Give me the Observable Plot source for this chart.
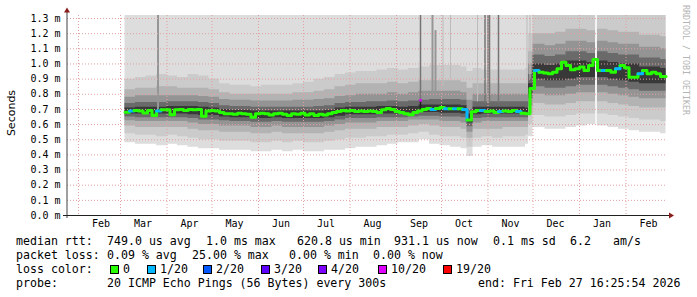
<!DOCTYPE html>
<html><head><meta charset="utf-8">
<script src="https://cdn.jsdelivr.net/npm/d3@7"></script>
<script src="https://cdn.jsdelivr.net/npm/@observablehq/plot@0.6"></script>
<style>
html,body{margin:0;padding:0;background:#fff;}
#wrap{position:relative;width:697px;height:297px;overflow:hidden;font-family:"DejaVu Sans Mono",monospace;}
#chart{position:absolute;left:0;top:0;}
.leg{position:absolute;font-size:11.6px;line-height:14px;white-space:pre;color:#000;}
.box{position:absolute;width:7px;height:7px;border:1px solid #000;}
.rot{position:absolute;white-space:pre;}
</style></head>
<body><div id="wrap"><div id="chart"></div></div>
<script>
// ---------------- data ----------------
const yTicks = [0.0,0.1,0.2,0.3,0.4,0.5,0.6,0.7,0.8,0.9,1.0,1.1,1.2,1.3];
const monthLabels = ["2025-02","2025-03","2025-04","2025-05","2025-06","2025-07","2025-08","2025-09","2025-10","2025-11","2025-12","2026-01","2026-02"];

// median rtt (ms), one value every 3 days from 2025-03-04
const medianStart = "2025-03-04";
const medianValues = [
0.682,0.690,0.693,0.690,0.676,0.693,0.660,0.690,0.698,0.698,
0.665,0.698,0.700,0.693,0.700,0.698,0.700,0.655,0.690,0.693,
0.690,0.680,0.672,0.671,0.668,0.675,0.671,0.668,0.648,0.671,
0.675,0.671,0.663,0.671,0.675,0.668,0.660,0.671,0.668,0.675,
0.663,0.671,0.660,0.668,0.663,0.671,0.680,0.686,0.693,0.690,
0.693,0.686,0.690,0.686,0.690,0.686,0.680,0.698,0.706,0.700,
0.686,0.680,0.671,0.665,0.680,0.690,0.700,0.706,0.700,0.706,
0.713,0.704,0.704,0.704,0.704,0.700,0.630,0.685,0.693,0.693,
0.686,0.690,0.680,0.686,0.690,0.686,0.693,0.686,0.675,0.671,
0.838,0.957,0.946,0.940,0.935,0.946,0.968,1.012,0.990,0.962,
0.968,0.980,0.957,0.990,1.030,0.957,0.957,0.957,0.946,0.968,
0.990,0.975,0.913,0.913,0.935,0.957,0.935,0.946,0.935,0.917,
0.917];
// lost pings (out of 20) for each median value
const medianLoss = [
0,1,0,0,0,0,0,1,0,0,
0,0,0,0,0,0,0,0,0,0,
0,0,0,0,0,0,0,0,0,0,
0,0,0,0,0,0,0,0,0,0,
0,0,0,0,0,0,0,0,0,0,
0,0,0,0,0,0,0,0,0,0,
0,0,0,0,0,0,0,0,1,0,
0,1,0,1,0,1,0,0,0,1,
0,0,0,1,0,0,0,1,0,0,
0,1,0,0,0,0,0,0,0,0,
0,0,0,0,0,0,1,0,0,1,
0,0,0,0,1,0,0,0,0,0,
0];
const endTime = "2026-02-27 16:25";

// smoke bands (ms): dates, then lower/upper edges from outermost (1) to innermost (6)
const bandDates = ["2025-03-04","2025-03-11","2025-03-18","2025-03-25","2025-04-01","2025-04-08","2025-04-15","2025-04-22","2025-04-29",
"2025-05-06","2025-05-13","2025-05-20","2025-05-27","2025-06-03","2025-06-10","2025-06-17","2025-06-24","2025-07-01","2025-07-08","2025-07-15","2025-07-22","2025-07-29","2025-08-05","2025-08-12","2025-08-19","2025-08-26","2025-09-02","2025-09-09","2025-09-16","2025-09-23","2025-09-30",
"2025-10-07","2025-10-14","2025-10-18","2025-10-22","2025-10-28","2025-11-04","2025-11-11","2025-11-18","2025-11-26","2025-11-28",
"2025-12-01","2025-12-09","2025-12-16","2025-12-23","2025-12-30","2026-01-06","2026-01-13","2026-01-20","2026-01-27","2026-02-03","2026-02-10","2026-02-17","2026-02-24","2026-02-27 16:25"];
const lo1 = [0.48,0.47,0.47,0.46,0.47,0.46,0.45,0.44,0.44,
0.43,0.43,0.43,0.42,0.42,0.43,0.42,0.43,0.42,0.42,0.43,0.43,0.44,0.45,0.45,0.46,0.47,0.48,0.48,0.50,0.47,0.46,
0.45,0.44,0.39,0.45,0.46,0.45,0.45,0.45,0.47,0.52,
0.58,0.57,0.57,0.58,0.59,0.60,0.59,0.58,0.57,0.56,0.55,0.55,0.54,0.54];
const hi1 = [1.32,1.32,1.32,1.32,1.32,1.32,1.32,1.32,1.32,
1.32,1.32,1.32,1.32,1.32,1.32,1.32,1.32,1.32,1.32,1.32,1.32,1.32,1.32,1.32,1.32,1.32,1.32,1.32,1.32,1.32,1.32,
1.32,1.32,1.32,1.32,1.32,1.32,1.32,1.32,1.32,1.32,
1.32,1.32,1.32,1.32,1.32,1.32,1.32,1.32,1.32,1.32,1.32,1.32,1.32,1.32];
const lo2 = [0.54,0.53,0.53,0.52,0.53,0.52,0.51,0.50,0.50,
0.49,0.49,0.49,0.48,0.48,0.49,0.48,0.49,0.48,0.48,0.49,0.50,0.51,0.51,0.52,0.52,0.53,0.53,0.54,0.55,0.53,0.52,
0.52,0.51,0.45,0.51,0.52,0.51,0.52,0.52,0.53,0.60,
0.66,0.65,0.65,0.66,0.67,0.67,0.67,0.66,0.65,0.64,0.63,0.63,0.62,0.62];
const hi2 = [0.90,0.91,0.92,0.93,0.92,0.91,0.93,0.92,0.90,
0.87,0.86,0.86,0.85,0.86,0.86,0.86,0.87,0.88,0.90,0.91,0.93,0.94,0.95,0.95,0.96,0.97,0.96,0.97,0.98,0.99,0.99,
0.99,0.98,0.95,0.97,0.96,0.96,0.96,0.96,0.97,1.20,
1.32,1.32,1.32,1.32,1.32,1.32,1.32,1.32,1.32,1.32,1.32,1.32,1.32,1.32];
const lo3 = [0.59,0.58,0.58,0.58,0.58,0.58,0.57,0.56,0.56,
0.55,0.55,0.55,0.54,0.54,0.55,0.54,0.54,0.54,0.54,0.55,0.56,0.57,0.57,0.57,0.58,0.58,0.58,0.59,0.60,0.59,0.58,
0.58,0.57,0.51,0.57,0.57,0.57,0.58,0.58,0.58,0.67,
0.74,0.73,0.73,0.74,0.75,0.75,0.75,0.74,0.73,0.72,0.71,0.71,0.71,0.71];
const hi3 = [0.83,0.84,0.84,0.85,0.85,0.84,0.84,0.84,0.83,
0.81,0.80,0.80,0.80,0.80,0.80,0.80,0.81,0.81,0.82,0.83,0.85,0.86,0.87,0.87,0.87,0.88,0.87,0.88,0.89,0.89,0.89,
0.89,0.88,0.84,0.87,0.87,0.87,0.87,0.87,0.87,1.08,
1.20,1.20,1.21,1.23,1.23,1.22,1.23,1.22,1.21,1.21,1.19,1.19,1.18,1.18];
const lo4 = [0.625,0.62,0.62,0.62,0.62,0.62,0.61,0.60,0.60,
0.59,0.59,0.59,0.58,0.58,0.59,0.58,0.58,0.58,0.58,0.59,0.60,0.61,0.61,0.61,0.62,0.62,0.62,0.63,0.63,0.63,0.62,
0.62,0.61,0.55,0.61,0.62,0.62,0.62,0.62,0.62,0.72,
0.80,0.79,0.79,0.80,0.81,0.81,0.81,0.80,0.79,0.78,0.77,0.77,0.77,0.77];
const hi4 = [0.78,0.79,0.79,0.79,0.79,0.79,0.79,0.785,0.78,
0.765,0.76,0.76,0.755,0.755,0.755,0.755,0.76,0.76,0.765,0.77,0.785,0.79,0.80,0.80,0.80,0.81,0.80,0.81,0.82,0.82,0.82,
0.82,0.81,0.76,0.80,0.80,0.80,0.80,0.80,0.80,1.00,
1.13,1.12,1.13,1.15,1.15,1.14,1.15,1.14,1.13,1.13,1.11,1.11,1.10,1.10];
const lo5 = [0.65,0.645,0.645,0.645,0.645,0.645,0.64,0.63,0.63,
0.625,0.62,0.62,0.615,0.615,0.62,0.615,0.615,0.615,0.615,0.62,0.63,0.64,0.64,0.64,0.645,0.645,0.645,0.65,0.655,0.655,0.65,
0.65,0.645,0.585,0.64,0.645,0.645,0.645,0.645,0.645,0.77,
0.85,0.84,0.84,0.85,0.86,0.86,0.86,0.85,0.84,0.83,0.82,0.82,0.82,0.82];
const hi5 = [0.74,0.745,0.745,0.745,0.75,0.75,0.75,0.745,0.74,
0.725,0.72,0.72,0.715,0.715,0.715,0.715,0.715,0.715,0.72,0.725,0.74,0.745,0.745,0.75,0.75,0.755,0.75,0.755,0.76,0.765,0.765,
0.765,0.76,0.70,0.75,0.75,0.75,0.75,0.75,0.75,0.93,
1.06,1.05,1.06,1.08,1.08,1.07,1.08,1.07,1.06,1.06,1.04,1.04,1.03,1.03];
const lo6 = [0.67,0.67,0.67,0.67,0.67,0.67,0.665,0.66,0.66,
0.65,0.645,0.645,0.64,0.64,0.645,0.64,0.64,0.64,0.64,0.645,0.655,0.665,0.665,0.665,0.67,0.67,0.67,0.675,0.68,0.68,0.675,
0.675,0.67,0.61,0.665,0.67,0.67,0.67,0.67,0.665,0.80,
0.90,0.89,0.89,0.90,0.91,0.91,0.91,0.90,0.89,0.88,0.87,0.87,0.87,0.87];
const hi6 = [0.71,0.715,0.715,0.715,0.72,0.72,0.72,0.715,0.71,
0.70,0.695,0.695,0.69,0.69,0.69,0.69,0.69,0.69,0.69,0.695,0.71,0.715,0.715,0.715,0.72,0.72,0.715,0.72,0.73,0.73,0.73,
0.73,0.725,0.67,0.715,0.715,0.715,0.715,0.715,0.71,0.87,
1.00,0.99,1.00,1.02,1.02,1.01,1.02,1.01,1.00,1.00,0.98,0.98,0.97,0.97];

// single-ping outliers (ms)
const spikeDates = ["2025-03-26","2025-09-17","2025-09-17","2025-09-25","2025-09-27","2025-10-02","2025-10-07","2025-10-25","2025-10-30","2025-11-01","2025-11-02","2025-11-08","2025-11-27","2025-11-29"];
const spikeLow   = [0.70,0.69,0.76,0.78,0.80,0.85,0.90,0.75,0.74,0.74,0.74,0.74,0.85,0.90];
const spikeHigh  = [1.32,0.76,1.32,1.32,1.22,1.32,1.32,1.32,1.32,1.32,1.32,1.32,1.32,1.32];
const spikeKind  = [2,0,1,2,2,3,3,3,1,2,1,1,3,3];
const gapDates = ["2026-01-12"];
const gapLow = [0.60];
const gapHigh = [1.32];
const lossDotDates = ["2025-09-17"];
const lossDotValues = [0.76];
const lossDotLoss = [10];

// legend
const lossLabels = ["0","1/20","2/20","3/20","4/20","10/20","19/20"];
const lossSteps = [0,1,2,3,4,10,19];
const statsRtt = ["749.0 us avg","1.0 ms max","620.8 us min","931.1 us now","0.1 ms sd","6.2","am/s"];
const statsLoss = ["0.09 % avg","25.00 % max","0.00 % min","0.00 % now"];
const probeText = "20 ICMP Echo Pings (56 Bytes) every 300s";
const endText = "end: Fri Feb 27 16:25:54 2026";

// ---------------- styles ----------------
const lossColorMap = {0:"#26ff00",1:"#00b8ff",2:"#0059ff",3:"#5e00ff",4:"#7e00ff",10:"#dd00ff",19:"#ff0000"};
const smokeColors = ["#dddddd","#cbcbcb","#b3b3b3","#949494","#6a6a6a","#383838"];
const spikeColors = ["#202020","#747474","#969696","#bcbcbc"];
const spikeWidths = [1.5,1.5,2,1];
const gridColor = "#e2a0a0";

// ---------------- build ----------------
const pd = d3.timeParse("%Y-%m-%d");
const pdt = d3.timeParse("%Y-%m-%d %H:%M");
const toDate = s => s.length > 10 ? pdt(s) : pd(s);
const xDomain = [pdt("2025-01-24 16:00"), pdt("2026-02-28 16:00")];
const yMax = 1.32;

const medStart = toDate(medianStart);
const medRows = medianValues.map((v, i) => ({date: d3.timeDay.offset(medStart, 3 * i), v, loss: medianLoss[i]}));
medRows.push({date: toDate(endTime), v: medianValues[medianValues.length - 1], loss: medianLoss[medianLoss.length - 1]});

const bandPairs = [[lo1,hi1],[lo2,hi2],[lo3,hi3],[lo4,hi4],[lo5,hi5],[lo6,hi6]];
const bandMarks = bandPairs.map(([lo, hi], k) =>
  Plot.areaY(bandDates.map((s, i) => ({date: toDate(s), lo: lo[i], hi: Math.min(hi[i], yMax)})),
    {x: "date", y1: "lo", y2: "hi", fill: smokeColors[k], curve: "step-after"}));

const spikeRows = spikeDates.map((s, i) => ({date: toDate(s), lo: spikeLow[i], hi: spikeHigh[i], kind: spikeKind[i]}));
const gapRows = gapDates.map((s, i) => ({date: toDate(s), lo: gapLow[i], hi: gapHigh[i]}));
const dotRows = lossDotDates.map((s, i) => ({date: toDate(s), v: lossDotValues[i], loss: lossDotLoss[i]}));

const monthStarts = monthLabels.map(m => d3.timeParse("%Y-%m")(m));
const monthMids = monthStarts.map(d => d3.timeDay.offset(d, 15));

const chart = Plot.plot({
  width: 697, height: 230,
  marginLeft: 67, marginRight: 30, marginTop: 15, marginBottom: 15,
  x: {type: "time", domain: xDomain},
  y: {domain: [0, yMax]},
  style: {fontFamily: "'DejaVu Sans Mono', monospace", fontSize: "10px", color: "#000", background: "transparent", overflow: "visible"},
  marks: [
    ...bandMarks,
    Plot.ruleX(spikeRows, {x: "date", y1: "lo", y2: "hi", stroke: d => spikeColors[d.kind], strokeWidth: d => spikeWidths[d.kind]}),
    Plot.ruleX(gapRows, {x: "date", y1: "lo", y2: "hi", stroke: "#f4f4f4", strokeWidth: 2}),
    Plot.gridY(yTicks.filter(v => v > 0), {stroke: gridColor, strokeOpacity: 1, strokeDasharray: "1,2"}),
    Plot.gridX(monthStarts, {stroke: gridColor, strokeOpacity: 1, strokeDasharray: "1,2"}),
    Plot.line(medRows, {x: "date", y: "v", z: null, stroke: d => lossColorMap[d.loss], strokeWidth: 3, curve: "step-after"}),
    Plot.dot(dotRows, {x: "date", y: "v", r: 1.5, fill: d => lossColorMap[d.loss], stroke: null}),
    Plot.axisY(yTicks, {tickSize: 0, tickPadding: 7, tickFormat: d => d.toFixed(1) + " m", label: null}),
    Plot.axisX(monthMids, {tickSize: 0, tickPadding: 4, tickFormat: d3.timeFormat("%b"), label: null})
  ]
});
document.getElementById("chart").appendChild(chart);

// axis lines with arrows (rrdtool style)
const sx = chart.scale("x"), sy = chart.scale("y");
const X0 = sx.apply(xDomain[0]), X1 = sx.apply(xDomain[1]);
const Y0 = sy.apply(0), YT = sy.apply(yMax);
const svg = d3.select(chart);
svg.append("line").attr("x1", X0).attr("x2", X0).attr("y1", Y0 + 3).attr("y2", YT - 3).attr("stroke", "#404040");
svg.append("line").attr("x1", X0 - 4).attr("x2", X1 + 3).attr("y1", Y0 + 0.5).attr("y2", Y0 + 0.5).attr("stroke", "#202020");
svg.append("path").attr("d", `M${X0 - 3},${YT - 2.5}L${X0 + 3},${YT - 2.5}L${X0},${YT - 7.5}Z`).attr("fill", "#8a1c1c");
svg.append("path").attr("d", `M${X1 + 2},${Y0 - 2.5}L${X1 + 2},${Y0 + 3.5}L${X1 + 7},${Y0 + 0.5}Z`).attr("fill", "#8a1c1c");

// side texts and legend
const wrap = document.getElementById("wrap");
function addDiv(cls, text, css) {
  const el = document.createElement("div");
  el.className = cls; el.textContent = text;
  Object.assign(el.style, css);
  wrap.appendChild(el); return el;
}
addDiv("rot", "Seconds", {left: "11px", top: "113px", fontFamily: "'DejaVu Sans', sans-serif", fontSize: "11px", transform: "translate(-50%,-50%) rotate(-90deg)"});
addDiv("rot", "RRDTOOL / TOBI OETIKER", {left: "686px", top: "60px", fontSize: "8.3px", color: "#b4b4b4", transform: "translate(-50%,-50%) rotate(90deg)"});

const rowTop = [234, 248, 262, 276];
addDiv("leg", "median rtt:", {left: "16px", top: rowTop[0] + "px"});
[107, 206, 297, 394, 493, 570, 613].forEach((x, i) => addDiv("leg", statsRtt[i], {left: x + "px", top: rowTop[0] + "px"}));
addDiv("leg", "packet loss:", {left: "16px", top: rowTop[1] + "px"});
[107, 192, 289, 373].forEach((x, i) => addDiv("leg", statsLoss[i], {left: x + "px", top: rowTop[1] + "px"}));
addDiv("leg", "loss color:", {left: "16px", top: rowTop[2] + "px"});
[110, 147, 203, 261, 318, 378, 443].forEach((x, i) => {
  addDiv("box", "", {left: x + "px", top: (rowTop[2] + 3) + "px", background: lossColorMap[lossSteps[i]]});
  addDiv("leg", lossLabels[i], {left: (x + 13) + "px", top: rowTop[2] + "px"});
});
addDiv("leg", "probe:", {left: "16px", top: rowTop[3] + "px"});
addDiv("leg", probeText, {left: "107px", top: rowTop[3] + "px"});
addDiv("leg", endText, {left: "478px", top: rowTop[3] + "px"});
</script>
</body></html>
